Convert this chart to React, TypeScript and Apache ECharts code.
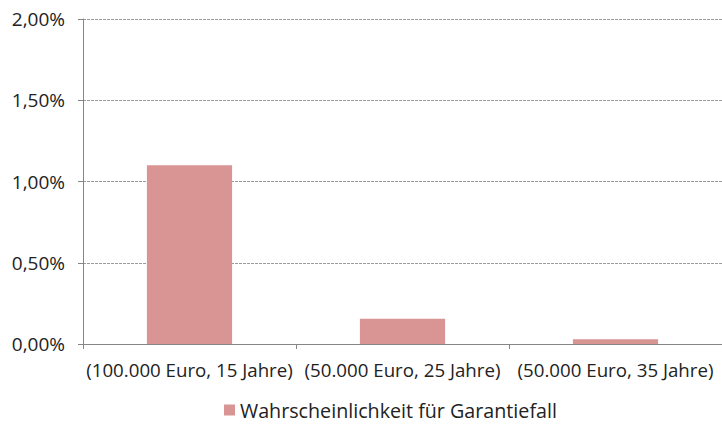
import React, { useEffect, useRef } from "react";
import * as echarts from "echarts";

const categories = [
  "(100.000 Euro, 15 Jahre)",
  "(50.000 Euro, 25 Jahre)",
  "(50.000 Euro, 35 Jahre)",
];
const seriesName = "Wahrscheinlichkeit für Garantiefall";
const values = [1.1, 0.155, 0.03];
const yTicks = { min: 0, max: 2, interval: 0.5 };

const font = "'Open Sans', 'Liberation Sans', sans-serif";

export default function App() {
  const ref = useRef<HTMLDivElement>(null);
  useEffect(() => {
    const chart = echarts.init(ref.current!, null, { renderer: "svg" });
    chart.setOption({
      animation: false,
      textStyle: { fontFamily: font },
      grid: { left: 83, right: -3, top: 19, bottom: 81, containLabel: false },
      legend: {
        top: 400,
        left: 224,
        padding: 0,
        itemWidth: 11,
        itemHeight: 11,
        itemGap: 6,
        icon: "rect",
        textStyle: { fontSize: 19.7, color: "#222", fontFamily: font },
        data: [seriesName],
      },
      xAxis: {
        type: "category",
        data: categories,
        axisLine: { lineStyle: { color: "#868686" } },
        axisTick: { show: true, alignWithLabel: false, length: 5, lineStyle: { color: "#868686" } },
        axisLabel: { fontSize: 18.7, color: "#222", margin: 16, interval: 0, fontFamily: font },
      },
      yAxis: {
        type: "value",
        min: yTicks.min,
        max: yTicks.max,
        interval: yTicks.interval,
        axisLine: { show: true, lineStyle: { color: "#868686" } },
        axisTick: { show: true, length: 5, lineStyle: { color: "#868686" } },
        splitLine: { lineStyle: { color: "#9a9a9a", type: [3, 1] } },
        axisLabel: {
          fontSize: 19,
          color: "#222",
          margin: 18,
          fontFamily: font,
          formatter: (v: number) => v.toFixed(2).replace(".", ",") + "%",
        },
      },
      series: [
        {
          name: seriesName,
          type: "bar",
          data: values,
          barWidth: "40%",
          itemStyle: { color: "#D99594" },
        },
      ],
    });
    return () => chart.dispose();
  }, []);
  return (
    <div
      ref={ref}
      style={{ position: "fixed", left: 0, top: 0, width: 722, height: 425, background: "#fff" }}
    />
  );
}
